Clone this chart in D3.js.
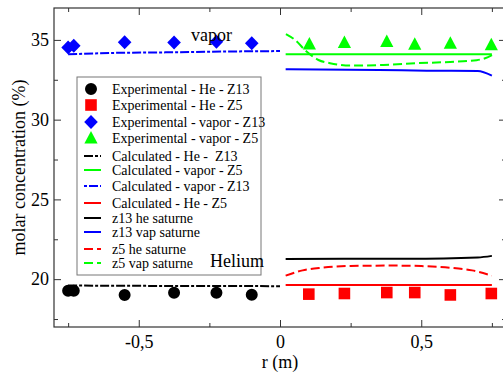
<!DOCTYPE html>
<html>
<head>
<meta charset="utf-8">
<script src="https://cdn.jsdelivr.net/npm/d3@7"></script>
<style>
  body { margin: 0; background: #fff; }
  svg { display: block; }
  svg text { font-family: "Liberation Serif", "Times New Roman", serif !important; }
</style>
</head>
<body>
<svg id="chart" width="503" height="372"></svg>
<script>
// experimental points (x in m, y in %)
const expHeZ13 = [[-0.75, 19.28], [-0.73, 19.27], [-0.55, 19.0], [-0.375, 19.15], [-0.225, 19.15], [-0.1, 19.02]];
const expHeZ5 = [[0.102, 19.06], [0.228, 19.1], [0.378, 19.16], [0.477, 19.16], [0.603, 19.01], [0.748, 19.1]];
const expVapZ13 = [[-0.75, 34.52], [-0.73, 34.64], [-0.55, 34.86], [-0.375, 34.83], [-0.225, 34.89], [-0.1, 34.79]];
const expVapZ5 = [[0.104, 34.75], [0.228, 34.83], [0.378, 34.9], [0.477, 34.73], [0.603, 34.79], [0.748, 34.7]];

// calculated curves
const calcHeZ13 = [[-0.75, 19.6], [-0.5, 19.58], [-0.25, 19.57], [0, 19.56]];
const calcVapZ5 = [[0.02, 34.1], [0.75, 34.1]];
const calcVapZ13 = [[-0.75, 34.1], [-0.6, 34.18], [-0.4, 34.22], [-0.2, 34.27], [0, 34.3]];
const calcHeZ5 = [[0.02, 19.64], [0.75, 19.64]];
const z13HeSat = [[0.02, 21.27], [0.45, 21.28], [0.7, 21.36], [0.75, 21.46]];
const z13VapSat = [[0.02, 33.16], [0.35, 33.12], [0.52, 33.07], [0.7, 33.05], [0.75, 32.76]];
const z5HeSat = [[0.02, 20.22], [0.08, 20.55], [0.15, 20.72], [0.25, 20.83], [0.4, 20.85],
                 [0.5, 20.82], [0.6, 20.72], [0.68, 20.55], [0.75, 20.22]];
const z5VapSat = [[0.021, 35.36], [0.053, 35.0], [0.094, 34.27], [0.136, 33.74], [0.177, 33.54],
                  [0.248, 33.39], [0.366, 33.43], [0.484, 33.54], [0.602, 33.62], [0.696, 33.73],
                  [0.726, 33.85], [0.752, 34.06]];

const xMajor = [-0.5, 0, 0.5];
const xMinor = [-0.75, -0.25, 0.25, 0.75];
const yMajor = [20, 25, 30, 35];
const yMinor = [17.5, 22.5, 27.5, 32.5];

const annotations = [["vapor", -0.315, 34.95], ["Helium", -0.248, 20.78]];

const series = [
  { name: "Experimental - He - Z13", type: "marker", shape: "circle", color: "#000", data: expHeZ13 },
  { name: "Experimental - He - Z5", type: "marker", shape: "square", color: "#ff0000", data: expHeZ5 },
  { name: "Experimental - vapor - Z13", type: "marker", shape: "diamond", color: "#0000ff", data: expVapZ13 },
  { name: "Experimental - vapor - Z5", type: "marker", shape: "triangle", color: "#00ff00", data: expVapZ5 },
  { name: "Calculated - He -  Z13", type: "line", color: "#000", dash: "9,2,3,2", data: calcHeZ13 },
  { name: "Calculated - vapor - Z5", type: "line", color: "#00ff00", dash: null, data: calcVapZ5 },
  { name: "Calculated - vapor - Z13", type: "line", color: "#0000ff", dash: "9,2,3,2", legendOffset: 11, data: calcVapZ13 },
  { name: "Calculated - He - Z5", type: "line", color: "#ff0000", dash: null, data: calcHeZ5 },
  { name: "z13 he saturne", type: "line", color: "#000", dash: null, data: z13HeSat },
  { name: "z13 vap saturne", type: "line", color: "#0000ff", dash: null, data: z13VapSat },
  { name: "z5 he saturne", type: "line", color: "#ff0000", dash: "9,4", data: z5HeSat },
  { name: "z5 vap saturne", type: "line", color: "#00ff00", dash: "9,4", data: z5VapSat }
];

const plot = { left: 54, top: 8, right: 506, bottom: 327 };
const svg = d3.select("#chart");

const x = d3.scaleLinear().domain([-0.8, 0.8]).range([plot.left, plot.right]);
const y = d3.scaleLinear().domain([17, 37]).range([plot.bottom, plot.top]);

const fmt = d => d3.format(".1~f")(d).replace(".", ",").replace("−", "-");

// axes with inward ticks on all four sides
function addAxis(axisFn, scale, values, size, transform, labels) {
  const g = svg.append("g").attr("transform", transform)
    .call(axisFn(scale).tickValues(values).tickSize(-size)
      .tickPadding(labels ? 8 : 0).tickFormat(labels ? fmt : ""));
  g.select(".domain").remove();
  g.attr("font-family", null);
  g.selectAll(".tick line").attr("stroke", "#333");
  g.selectAll(".tick text").attr("font-size", 18).attr("fill", "#000");
  return g;
}
addAxis(d3.axisBottom, x, xMajor, 7, `translate(0,${plot.bottom})`, true);
addAxis(d3.axisBottom, x, xMinor, 4, `translate(0,${plot.bottom})`, false);
addAxis(d3.axisTop, x, xMajor, 7, `translate(0,${plot.top})`, false);
addAxis(d3.axisTop, x, xMinor, 4, `translate(0,${plot.top})`, false);
addAxis(d3.axisLeft, y, yMajor, 7, `translate(${plot.left},0)`, true).selectAll("text").attr("dx", "3px");
addAxis(d3.axisLeft, y, yMinor, 4, `translate(${plot.left},0)`, false);
addAxis(d3.axisRight, y, yMajor, 7, `translate(${plot.right},0)`, false);
addAxis(d3.axisRight, y, yMinor, 4, `translate(${plot.right},0)`, false);

svg.append("rect")
  .attr("x", plot.left).attr("y", plot.top)
  .attr("width", plot.right - plot.left).attr("height", plot.bottom - plot.top)
  .attr("fill", "none").attr("stroke", "#333").attr("stroke-width", 1.2);

// axis titles
svg.append("text")
  .attr("x", (plot.left + plot.right) / 2).attr("y", 368)
  .attr("text-anchor", "middle").attr("font-size", 18).text("r (m)");
svg.append("text")
  .attr("transform", `translate(25,${(plot.top + plot.bottom) / 2}) rotate(-90)`)
  .attr("text-anchor", "middle").attr("font-size", 18).text("molar concentration (%)");

// marker shapes
function shapePath(shape) {
  switch (shape) {
    case "circle": return d3.symbol(d3.symbolCircle, 113)();
    case "square": return "M-5.8,-5.8H5.8V5.8H-5.8Z";
    case "diamond": return "M0,-7L6.8,0L0,7L-6.8,0Z";
    case "triangle": return "M0,-7L6.6,5.5L-6.6,5.5Z";
  }
}

const line = d3.line().x(d => x(d[0])).y(d => y(d[1])).curve(d3.curveMonotoneX);

const lines = series.filter(s => s.type === "line");
svg.append("g").selectAll("path").data(lines).join("path")
  .attr("d", d => line(d.data))
  .attr("fill", "none")
  .attr("stroke", d => d.color)
  .attr("stroke-width", 2)
  .attr("stroke-dasharray", d => d.dash);

const markers = series.filter(s => s.type === "marker");
svg.append("g").selectAll("g").data(markers).join("g")
  .each(function (s) {
    d3.select(this).selectAll("path").data(s.data).join("path")
      .attr("transform", d => `translate(${x(d[0])},${y(d[1])})`)
      .attr("d", shapePath(s.shape))
      .attr("fill", s.color);
  });

// legend
const legendRowY = [89, 105, 122, 138, 156, 170, 186, 203, 218, 232, 249, 263];
const legend = svg.append("g");
legend.append("rect")
  .attr("x", 77).attr("y", 77).attr("width", 184).attr("height", 198)
  .attr("fill", "#fff").attr("stroke", "#777").attr("stroke-width", 1);

const rows = legend.selectAll("g.row").data(series).join("g")
  .attr("class", "row")
  .attr("transform", (d, i) => `translate(0,${legendRowY[i]})`);

rows.each(function (s) {
  const g = d3.select(this);
  if (s.type === "marker") {
    g.append("path").attr("transform", "translate(91,0)")
      .attr("d", shapePath(s.shape)).attr("fill", s.color);
  } else {
    g.append("line").attr("x1", 84).attr("x2", 101).attr("y1", 0).attr("y2", 0)
      .attr("stroke", s.color).attr("stroke-width", 2)
      .attr("stroke-dasharray", s.dash)
      .attr("stroke-dashoffset", s.legendOffset || 0);
  }
  g.append("text").attr("x", 112).attr("y", 5)
    .attr("font-size", 14).attr("fill", "#000")
    .style("white-space", "pre").text(s.name);
});

// annotations drawn last, over the legend box
svg.append("g").selectAll("text").data(annotations).join("text")
  .attr("x", d => x(d[1])).attr("y", d => y(d[2]))
  .attr("font-size", 18).text(d => d[0]);
</script>
</body>
</html>
